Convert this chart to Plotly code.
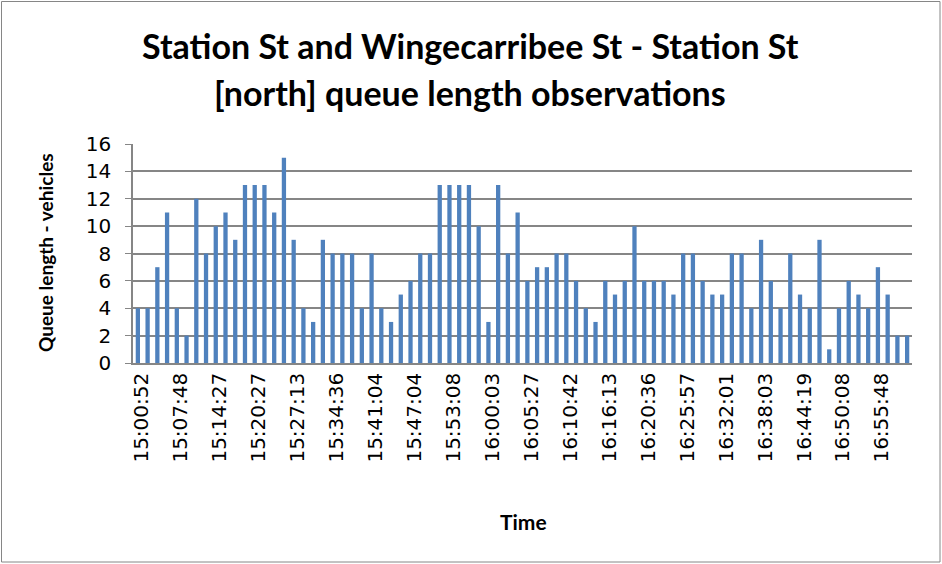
import plotly.graph_objects as go

# queue length per observation (80 observations, one label every 4th)
queue_len = [4, 4, 7, 11, 4, 2, 12, 8, 10, 11,
             9, 13, 13, 13, 11, 15, 9, 4, 3, 9,
             8, 8, 8, 4, 8, 4, 3, 5, 6, 8,
             8, 13, 13, 13, 13, 10, 3, 13, 8, 11,
             6, 7, 7, 8, 8, 6, 4, 3, 6, 5,
             6, 10, 6, 6, 6, 5, 8, 8, 6, 5,
             5, 8, 8, 4, 9, 6, 4, 8, 5, 4,
             9, 1, 4, 6, 5, 4, 7, 5, 2, 2]

time_labels = ["15:00:52", "15:07:48", "15:14:27", "15:20:27", "15:27:13",
               "15:34:36", "15:41:04", "15:47:04", "15:53:08", "16:00:03",
               "16:05:27", "16:10:42", "16:16:13", "16:20:36", "16:25:57",
               "16:32:01", "16:38:03", "16:44:19", "16:50:08", "16:55:48"]

y_ticks = [0, 2, 4, 6, 8, 10, 12, 14, 16]

title_lines = ["Station St and Wingecarribee St - Station St",
               "[north] queue length observations"]

obs = list(range(len(queue_len)))
label_pos = obs[::4]

FONT = "Lato, Calibri, sans-serif"
TICKFONT = "DejaVu Sans, sans-serif"
GRID = "#868686"

W, H = 942, 564
ML, MR, MT, MB = 133, 30, 144, 201
PW, PH = W - ML - MR, H - MT - MB


def px_x(p):
    # pixel -> paper x
    return (p - ML) / PW


def px_y(p):
    # pixel -> paper y
    return (H - MB - p) / PH


fig = go.Figure(go.Bar(x=obs, y=queue_len, width=0.44,
                       marker=dict(color="#4F81BD", line=dict(width=0))))

fig.update_layout(
    width=W, height=H,
    margin=dict(l=ML, r=MR, t=MT, b=MB),
    paper_bgcolor="white", plot_bgcolor="white",
    showlegend=False,
    font=dict(family=FONT, color="black"),
)

fig.update_xaxes(range=[-0.5, len(queue_len) - 0.5],
                 tickmode="array", tickvals=label_pos, ticktext=time_labels,
                 tickangle=-90, tickfont=dict(size=20, family=TICKFONT),
                 ticklabelshift=4,
                 showgrid=False, showline=True, linecolor=GRID, linewidth=1.5,
                 ticks="", zeroline=False)

fig.update_yaxes(range=[0, 16], tickvals=y_ticks,
                 tickfont=dict(size=20, family=TICKFONT),
                 showgrid=True, gridcolor=GRID, gridwidth=1.5,
                 showline=True, linecolor=GRID, linewidth=1.5,
                 ticks="outside", ticklen=6, tickcolor=GRID,
                 ticklabelstandoff=10,
                 zeroline=False)

# title, one annotation per line
for txt, yc in zip(title_lines, [45, 92]):
    fig.add_annotation(text="<b>%s</b>" % txt, xref="paper", yref="paper",
                       x=px_x(470), y=px_y(yc), xanchor="center", yanchor="middle",
                       showarrow=False, font=dict(size=34, family=FONT))

# axis titles
fig.add_annotation(text="<b>Queue length - vehicles</b>", textangle=-90,
                   xref="paper", yref="paper", x=px_x(45), y=px_y(253),
                   xanchor="center", yanchor="middle", showarrow=False,
                   font=dict(size=19, family=FONT))
fig.add_annotation(text="<b>Time</b>",
                   xref="paper", yref="paper", x=px_x(523), y=px_y(521),
                   xanchor="center", yanchor="middle", showarrow=False,
                   font=dict(size=21, family=FONT))

# chart border
fig.add_shape(type="rect", xref="paper", yref="paper",
              x0=px_x(1.5), x1=px_x(940), y0=px_y(562), y1=px_y(1.5),
              line=dict(color="#868686", width=1))

fig.write_html("out.html", config={"displayModeBar": False},
               post_script="document.body.style.margin='0';")
